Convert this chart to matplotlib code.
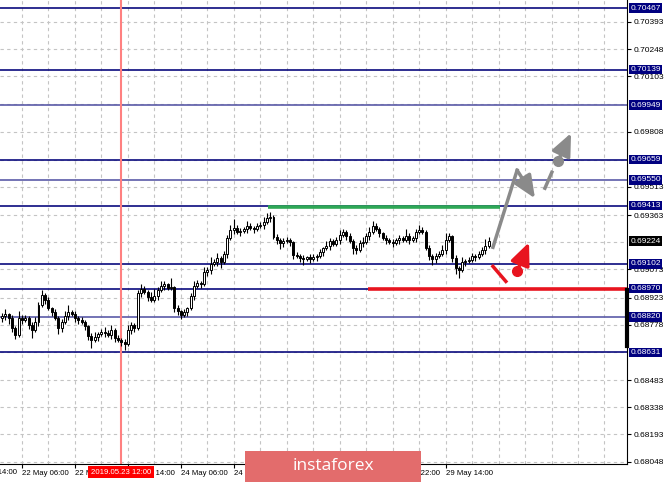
#!/usr/bin/env python3
"""
AUDUSD H1 style chart: levels, candles and forecast arrows (MT4 look).
"""
import numpy as np
import matplotlib
matplotlib.use('Agg')
import matplotlib.pyplot as plt
from matplotlib.patches import Rectangle

plt.rcParams['font.family'] = ['Liberation Sans', 'DejaVu Sans']

# hourly closes, bar 0 = 22 May 00:00 (weekend skipped after bar 71)
closes = [
    0.68823, 0.68833, 0.68812, 0.68759, 0.68721, 0.68812, 0.68801, 0.68812,
    0.68775, 0.68748, 0.68791, 0.68881, 0.68935, 0.68908, 0.68865, 0.68844,
    0.68812, 0.68759, 0.68791, 0.68823, 0.68844, 0.68833, 0.68812, 0.68801,
    0.68791, 0.68769, 0.68716, 0.68695, 0.68711, 0.68727, 0.68737, 0.68732,
    0.68721, 0.68748, 0.68705, 0.68695, 0.68684, 0.68673, 0.68748, 0.68775,
    0.68759, 0.68945, 0.68967, 0.68951, 0.68924, 0.68908, 0.68929, 0.68961,
    0.68983, 0.68993, 0.68972, 0.68977, 0.68865, 0.68849, 0.68828, 0.68844,
    0.68865, 0.68929, 0.68983, 0.68999, 0.68993, 0.69057, 0.69068, 0.69100,
    0.69111, 0.69132, 0.69111, 0.69153, 0.69239, 0.69281, 0.69292, 0.69271,
    0.69276, 0.69287, 0.69303, 0.69292, 0.69287, 0.69303, 0.69308, 0.69324,
    0.69345, 0.69351, 0.69244, 0.69228, 0.69212, 0.69223, 0.69228, 0.69217,
    0.69148, 0.69143, 0.69132, 0.69127, 0.69137, 0.69127, 0.69137, 0.69143,
    0.69164, 0.69185, 0.69196, 0.69223, 0.69207, 0.69228, 0.69255, 0.69271,
    0.69249, 0.69223, 0.69185, 0.69175, 0.69212, 0.69217, 0.69249, 0.69271,
    0.69303, 0.69287, 0.69265, 0.69239, 0.69228, 0.69217, 0.69212, 0.69228,
    0.69239, 0.69228, 0.69249, 0.69228, 0.69239, 0.69271, 0.69281, 0.69271,
    0.69185, 0.69143, 0.69127, 0.69143, 0.69153, 0.69175, 0.69228, 0.69249,
    0.69132, 0.69079, 0.69068, 0.69111, 0.69116, 0.69121, 0.69143, 0.69137,
    0.69153, 0.69175, 0.69196, 0.69224,
]
first_open = 0.68812
# wick lengths in pips above / below the body
wick_up = [2, 3, 1, 2, 1, 4, 2, 2, 1, 2, 3, 2, 3, 1, 2, 1, 2, 1, 2, 3, 4, 1, 2, 1,
           2, 1, 1, 2, 3, 1, 2, 3, 2, 3, 1, 2, 1, 2, 3, 2, 1, 2, 3, 2, 1, 3, 4, 2,
           3, 2, 1, 5, 1, 2, 1, 2, 1, 2, 3, 2, 1, 3, 2, 4, 2, 3, 1, 2, 2, 3, 5, 2,
           2, 1, 3, 2, 1, 2, 2, 3, 3, 3, 1, 2, 1, 2, 2, 1, 1, 2, 1, 2, 1, 2, 2, 1,
           2, 1, 3, 2, 1, 2, 3, 2, 1, 2, 1, 2, 2, 3, 2, 3, 3, 2, 1, 1, 2, 1, 2, 1,
           2, 1, 4, 2, 1, 2, 3, 2, 1, 2, 1, 2, 2, 3, 4, 2, 1, 2, 1, 3, 1, 2, 2, 1,
           2, 2, 4, 2]
wick_dn = [2, 2, 3, 2, 2, 1, 2, 1, 2, 4, 1, 2, 1, 2, 1, 2, 1, 3, 2, 1, 2, 1, 2, 2,
           1, 2, 2, 4, 1, 2, 1, 2, 1, 2, 2, 1, 2, 3, 1, 2, 2, 1, 2, 1, 2, 1, 1, 2,
           1, 2, 1, 1, 2, 2, 2, 1, 2, 1, 2, 1, 2, 1, 2, 2, 1, 2, 3, 1, 2, 1, 2, 1,
           2, 1, 2, 1, 2, 1, 1, 2, 1, 2, 1, 2, 3, 2, 1, 2, 2, 1, 2, 3, 1, 2, 1, 2,
           1, 2, 1, 2, 1, 1, 2, 1, 2, 1, 3, 2, 1, 2, 1, 2, 1, 1, 2, 1, 2, 1, 2, 1,
           2, 1, 1, 2, 1, 2, 1, 1, 1, 2, 3, 2, 1, 1, 2, 1, 2, 3, 4, 1, 2, 1, 1, 2,
           1, 1, 2, 1]

# horizontal levels drawn on the chart
levels = [0.70467, 0.70139, 0.69949, 0.69659, 0.69550, 0.69413,
          0.69102, 0.68970, 0.68820, 0.68631]
light_levels = [0.69949, 0.69550, 0.68820]
last_price = 0.69224

# price scale: grid values and the labels that stay visible
grid_prices = [0.70393, 0.70248, 0.70103, 0.69953, 0.69808, 0.69658, 0.69513,
               0.69363, 0.69218, 0.69073, 0.68923, 0.68778, 0.68633, 0.68483,
               0.68338, 0.68193, 0.68048]
price_ticks = [0.70393, 0.70248, 0.70103, 0.69808, 0.69513, 0.69363, 0.69073,
               0.68923, 0.68778, 0.68483, 0.68338, 0.68193, 0.68048]

# time scale (bar index, text); labels under the watermark are blank
time_bars = [6, 22, 38, 54, 70, 86, 102, 118, 134]
time_labels = ['22 May 06:00', '22 May 22:00', '23 May 14:00',
               '24 May 06:00', '24 May 22:00', '', '',
               '28 May 22:00', '29 May 14:00']
edge_bar, edge_label = -10, '21 May 14:00'
cursor_bar = 36
cursor_label = '2019.05.23 12:00'

# analyst drawings (bar index, price)
green_line = ([80.3, 150.4], [0.69406, 0.69406])
red_line = ([110.5, 188.8], [0.68970, 0.68970])
gray_path = ([148.3, 155.6, 161.0], [0.69191, 0.69602, 0.69452])
gray_dash = ([164.0, 166.1], [0.69506, 0.69591])
gray_dot = (167.9, 0.69650)
gray_tip = (171.9, 0.69800)
red_stroke = ([148.3, 152.2], [0.69089, 0.69009])
red_dot = (155.6, 0.69063)
red_tip = (159.2, 0.69217)
spread_bar = (0.68663, 0.68961)

navy = '#0b0b7e'
gray = '#8a8a8a'
red = '#e8141f'

W, H = 665, 482
fig = plt.figure(figsize=(W / 100, H / 100), dpi=100)
ax = fig.add_axes([0, 18 / H, 627 / W, 464 / H])

# grid
for b in range(6, 189, 8):
    ax.axvline(b, color='#c4c4c4', lw=0.8, ls=(0, (3, 3)), zorder=0)
for p in grid_prices:
    ax.axhline(p, color='#c4c4c4', lw=0.8, ls=(0, (3, 3)), zorder=0)

# levels
for p in levels:
    c = '#5b5ba8' if p in light_levels else navy
    ax.axhline(p, color=c, lw=1.2, zorder=1)

ax.axvline(cursor_bar, color='#ff8080', lw=1.5, zorder=1)

# candles
c = np.array(closes)
o = np.concatenate([[first_open], c[:-1]])
hi = np.maximum(o, c) + np.array(wick_up) * 0.0001
lo = np.minimum(o, c) - np.array(wick_dn) * 0.0001
x = np.arange(len(c))
ax.vlines(x, lo, hi, color='black', lw=0.8, zorder=3)
up = c >= o
body = np.where(np.abs(c - o) < 0.00003, 0.00003, np.abs(c - o))
ax.bar(x[up], body[up], bottom=o[up], width=0.6, color='white',
       edgecolor='black', lw=0.7, zorder=4)
ax.bar(x[~up], body[~up], bottom=c[~up], width=0.6, color='black',
       edgecolor='black', lw=0.7, zorder=4)

# drawings
arrow = dict(arrowstyle='-|>,head_length=0.8,head_width=0.35', lw=2.5,
             mutation_scale=17, shrinkA=0, shrinkB=0)
ax.plot(*green_line, color='#2ea855', lw=2.6, zorder=5, solid_capstyle='butt')
ax.plot(*red_line, color=red, lw=2.6, zorder=5, solid_capstyle='butt')
ax.plot(gray_path[0][:2], gray_path[1][:2], color=gray, lw=2.5, zorder=6)
ax.annotate('', xy=(gray_path[0][2], gray_path[1][2]),
            xytext=(gray_path[0][1], gray_path[1][1]),
            arrowprops=dict(color=gray, **arrow), zorder=6)
ax.plot(*gray_dash, color=gray, lw=2.5, zorder=6)
ax.plot(*gray_dot, 'o', color=gray, ms=7, zorder=7)
ax.annotate('', xy=gray_tip, xytext=gray_dot,
            arrowprops=dict(color=gray, **arrow), zorder=6)
ax.plot(*red_stroke, color=red, lw=2.5, zorder=6)
ax.plot(*red_dot, 'o', color=red, ms=7, zorder=7)
ax.annotate('', xy=red_tip, xytext=red_dot,
            arrowprops=dict(color=red, **arrow), zorder=6)

# axes look
for s in ['left', 'top']:
    ax.spines[s].set_visible(False)
ax.spines['right'].set_color('black')
ax.spines['bottom'].set_color('black')
ax.plot([1.0, 1.0], spread_bar, color='black', lw=3,
        transform=ax.get_yaxis_transform(), clip_on=False, zorder=8)

ax.yaxis.tick_right()
ax.set_yticks(price_ticks)
ax.set_yticklabels([f'{p:.5f}' for p in price_ticks])
ax.tick_params(axis='y', length=3, width=0.8, pad=1.5, labelsize=6,
               colors='black')
ax.set_xticks(time_bars)
ax.set_xticklabels(time_labels)
ax.tick_params(axis='x', length=3, width=0.8, pad=1.5, labelsize=5.6)
for t in ax.get_xticklabels():
    t.set_ha('left')

# limits last, set_xticks would widen them
ax.set_xlim(-0.63, 188.8)
ax.set_ylim(0.68035, 0.70510)

# time label that starts left of the chart, cut by the window edge
xtr = ax.get_xaxis_transform()
ax.annotate(edge_label, xy=(edge_bar, 0), xycoords=xtr, xytext=(0.8, -5.8),
            textcoords='offset points', ha='left', va='center', fontsize=5.6,
            annotation_clip=False)

# level price boxes
ytr = ax.get_yaxis_transform()
for p in levels:
    ax.text(1.005, p, f'{p:.5f}', transform=ytr, ha='left', va='center',
            fontsize=6, color='white', clip_on=False, zorder=9,
            bbox=dict(boxstyle='square,pad=0.15', fc='#000080', ec='none'))
ax.text(1.005, last_price, f'{last_price:.5f}', transform=ytr, ha='left',
        va='center', fontsize=6, color='white', clip_on=False, zorder=9,
        bbox=dict(boxstyle='square,pad=0.15', fc='black', ec='none'))

# cursor date label
ax.annotate(cursor_label, xy=(cursor_bar, 0), xycoords=xtr,
            xytext=(0, -5.8), textcoords='offset points', ha='center',
            va='center', fontsize=5.6, color='white', annotation_clip=False,
            zorder=9, bbox=dict(boxstyle='square,pad=0.35', fc='#ff0000',
                                ec='none'))

# watermark
fig.add_artist(Rectangle((245 / W, 0), 176 / W, 31 / H,
                         transform=fig.transFigure, fc='#e36c6c', ec='none',
                         zorder=10))
fig.text(333 / W, 16 / H, 'instaforex', ha='center', va='center',
         color='white', fontsize=12.5, family='Open Sans', zorder=11)

fig.savefig('out.png', dpi=100)
plt.close(fig)
